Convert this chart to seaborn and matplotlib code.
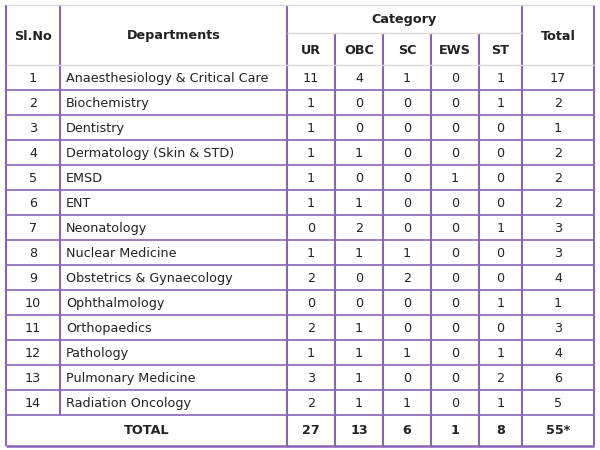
import matplotlib
matplotlib.use("Agg")
import matplotlib.pyplot as plt
import seaborn as sns

sl_no = list(range(1, 15))
departments = ["Anaesthesiology & Critical Care", "Biochemistry", "Dentistry",
               "Dermatology (Skin & STD)", "EMSD", "ENT", "Neonatology",
               "Nuclear Medicine", "Obstetrics & Gynaecology", "Ophthalmology",
               "Orthopaedics", "Pathology", "Pulmonary Medicine", "Radiation Oncology"]
categories = ["UR", "OBC", "SC", "EWS", "ST"]
ur = [11, 1, 1, 1, 1, 1, 0, 1, 2, 0, 2, 1, 3, 2]
obc = [4, 0, 0, 1, 0, 1, 2, 1, 0, 0, 1, 1, 1, 1]
sc = [1, 0, 0, 0, 0, 0, 0, 1, 2, 0, 0, 1, 0, 1]
ews = [0, 0, 0, 0, 1, 0, 0, 0, 0, 0, 0, 0, 0, 0]
st = [1, 1, 0, 0, 0, 0, 1, 0, 0, 1, 0, 1, 2, 1]
totals = [17, 2, 1, 2, 2, 2, 3, 3, 4, 1, 3, 4, 6, 5]
col_totals = [27, 13, 6, 1, 8]
grand_total = "55*"

sns.set_theme(style="white")
fig = plt.figure(figsize=(6, 4.5), dpi=100)
ax = fig.add_axes([0, 0, 1, 1])
ax.set_xlim(0, 600); ax.set_ylim(450, 0); ax.axis("off")

P = "#8a63b8"; G = "#d8d8d8"
xs = [6, 60, 287, 335, 383, 431, 479, 522, 594]
top, mid, hb = 5, 33, 65
rh = 25
rows_y = [hb + i * rh for i in range(15)]
bottom = 446
fs = 9.2
kw = dict(ha="center", va="center", fontsize=fs, color="#222222", family="DejaVu Sans")

def vl(x, y0, y1, c=P, lw=1.5):
    ax.plot([x, x], [y0, y1], color=c, lw=lw, solid_capstyle="butt")
def hl(y, x0, x1, c=P, lw=1.2):
    ax.plot([x0, x1], [y, y], color=c, lw=lw, solid_capstyle="butt")

vl(xs[0], top, bottom); vl(xs[-1], top, bottom)
vl(xs[1], top, rows_y[-1]); vl(xs[2], top, bottom); vl(xs[7], top, bottom)
for x in xs[3:7]:
    vl(x, mid, bottom)
hl(top, xs[0], xs[-1], c=G, lw=1)
hl(mid, xs[2], xs[7], c=G, lw=1)
hl(hb, xs[0], xs[-1], c=G, lw=1)
for y in rows_y[1:]:
    hl(y, xs[0], xs[-1])
hl(bottom, xs[0], xs[-1], lw=1.8)

ax.text((xs[0]+xs[1])/2, 36, "Sl.No", fontweight="bold", **kw)
ax.text((xs[1]+xs[2])/2, 36, "Departments", fontweight="bold", **kw)
ax.text((xs[2]+xs[7])/2, 20, "Category", fontweight="bold", **kw)
ax.text((xs[7]+xs[8])/2, 36, "Total", fontweight="bold", **kw)
for i, c in enumerate(categories):
    ax.text((xs[2+i]+xs[3+i])/2, 50, c, fontweight="bold", **kw)

cols = [ur, obc, sc, ews, st]
for r in range(14):
    yc = rows_y[r] + rh/2 + 1
    ax.text((xs[0]+xs[1])/2, yc, str(sl_no[r]), **kw)
    kl = dict(kw); kl["ha"] = "left"
    ax.text(xs[1] + 6, yc, departments[r], **kl)
    for i, col in enumerate(cols):
        ax.text((xs[2+i]+xs[3+i])/2, yc, str(col[r]), **kw)
    ax.text((xs[7]+xs[8])/2, yc, str(totals[r]), **kw)

yc = (rows_y[-1] + bottom)/2
ax.text((xs[0]+xs[2])/2, yc, "TOTAL", fontweight="bold", **kw)
for i, v in enumerate(col_totals):
    ax.text((xs[2+i]+xs[3+i])/2, yc, str(v), fontweight="bold", **kw)
ax.text((xs[7]+xs[8])/2, yc, grand_total, fontweight="bold", **kw)

fig.savefig("out.png", dpi=100, facecolor="white")
